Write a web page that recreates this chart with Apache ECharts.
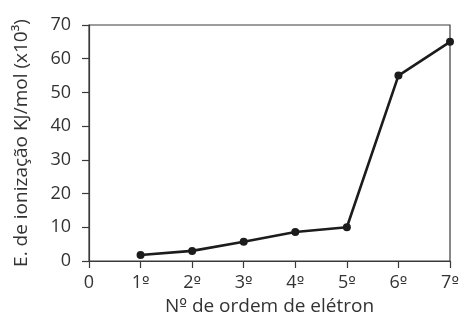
<!DOCTYPE html>
<html>
<head>
<meta charset="utf-8">
<script src="https://cdn.jsdelivr.net/npm/echarts@6/dist/echarts.min.js"></script>
<style>
  html, body { margin: 0; padding: 0; background: #fff; }
  #chart { width: 463px; height: 320px; }
</style>
</head>
<body>
<div id="chart"></div>
<script>
// Order of the electron removed (axis starts at 0, no value there)
const orderLabels = ['0', '1º', '2º', '3º', '4º', '5º', '6º', '7º'];
// Ionization energies, kJ/mol (x10^3)
const ionizationEnergy = [null, 1.8, 3.0, 5.7, 8.6, 10, 55, 65];
// Value axis ticks
const yMin = 0, yMax = 70, yStep = 10;

const FONT = '"Open Sans"';
const ORD_FONT = '"DejaVu Sans"';   // ordinal sign with underline
const W = 'normal';
const ink = '#1c1c1c';
const textInk = '#333333';
const axisInk = '#3a3a3a';

// Split the ordinal sign into its own rich-text run
const ordinal = s => s.replace(/º/g, '{o|º}');

const chart = echarts.init(document.getElementById('chart'), null, { renderer: 'canvas' });
chart.setOption({
  animation: false,
  backgroundColor: '#fff',
  grid: {
    left: 89, right: 13, top: 25, bottom: 59,
    outerBoundsMode: 'none',
    containLabel: false,
    show: true, borderColor: axisInk, borderWidth: 1.2, backgroundColor: 'transparent'
  },
  xAxis: {
    type: 'category',
    data: orderLabels,
    boundaryGap: false,
    name: ordinal('Nº de ordem de elétron'),
    nameLocation: 'middle',
    nameGap: 36,
    nameTextStyle: {
      fontFamily: FONT, fontSize: 19, fontWeight: W, color: textInk,
      rich: { o: { fontFamily: ORD_FONT, fontSize: 16.5, fontWeight: 'normal', color: textInk } }
    },
    axisLine: { lineStyle: { color: axisInk, width: 1.2 } },
    axisTick: { show: true, length: 7, alignWithLabel: true, lineStyle: { color: axisInk, width: 1.2 } },
    axisLabel: {
      margin: 13, fontFamily: FONT, fontSize: 18, fontWeight: W, color: textInk, interval: 0,
      formatter: v => ordinal(v),
      rich: { o: { fontFamily: ORD_FONT, fontSize: 16, fontWeight: 'normal', color: textInk } }
    },
    splitLine: { show: false }
  },
  yAxis: {
    type: 'value',
    min: yMin, max: yMax, interval: yStep,
    name: 'E. de ionização KJ/mol (x10³)',
    nameLocation: 'middle',
    nameGap: 58,
    nameTextStyle: { fontFamily: FONT, fontSize: 19, fontWeight: W, color: textInk },
    axisLine: { show: true, lineStyle: { color: axisInk, width: 1.2 } },
    axisTick: { show: true, length: 7, lineStyle: { color: axisInk, width: 1.2 } },
    axisLabel: { margin: 18, fontFamily: FONT, fontSize: 18, fontWeight: W, color: textInk },
    splitLine: { show: false }
  },
  series: [{
    type: 'line',
    data: ionizationEnergy,
    connectNulls: false,
    symbol: 'circle',
    symbolSize: 8,
    showAllSymbol: true,
    lineStyle: { color: ink, width: 2.6 },
    itemStyle: { color: ink }
  }]
});
</script>
</body>
</html>
